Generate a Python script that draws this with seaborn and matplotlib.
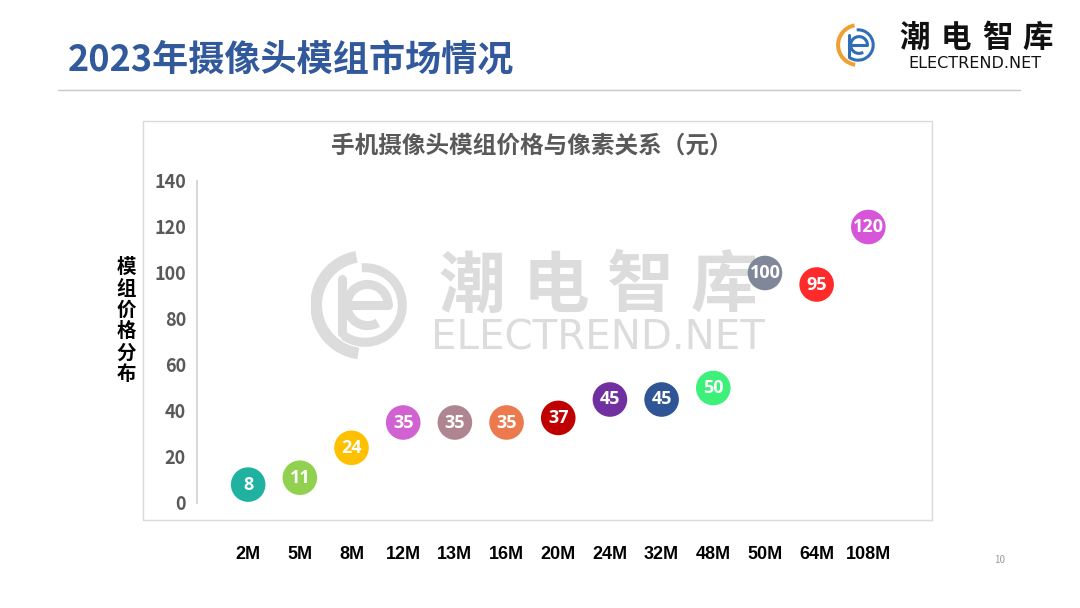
import matplotlib
matplotlib.use("Agg")
import matplotlib.pyplot as plt
from matplotlib.patches import Arc, Rectangle
from matplotlib.lines import Line2D
import pandas as pd
import seaborn as sns

# data
pixels = ["2M", "5M", "8M", "12M", "13M", "16M", "20M", "24M", "32M", "48M", "50M", "64M", "108M"]
prices = [8, 11, 24, 35, 35, 35, 37, 45, 45, 50, 100, 95, 120]
colors = ["#20b2a0", "#92d050", "#ffc000", "#d062d2", "#ae8590", "#ec7a4f", "#c00000",
          "#7030a0", "#2f5597", "#3cf07a", "#7f8799", "#ff2b2b", "#d655d8"]
y_ticks = [0, 20, 40, 60, 80, 100, 120, 140]

title = "2023年摄像头模组市场情况"
chart_title = "手机摄像头模组价格与像素关系（元）"
y_label = "模组价格分布"
brand = "潮电智库"
site = "ELECTREND.NET"

sns.set_theme(style="white")
plt.rcParams['font.family'] = ['Noto Sans CJK SC', 'DejaVu Sans']

W, H = 1080, 608
fig = plt.figure(figsize=(W / 100, H / 100), dpi=100)


def fx(px):
    return px / W


def fy(py):
    return 1 - py / H


def draw_icon(ax, ring, blue, lw):
    # rough version of the site logo: outer C + inner e
    ax.add_patch(Arc((0, 0), 1.9, 1.9, theta1=100, theta2=262, color=ring, lw=lw * 1.3))
    ax.add_patch(Arc((0, 0), 1.45, 1.45, theta1=-125, theta2=95, color=blue, lw=lw))
    ax.add_patch(Arc((0.05, 0), 0.8, 0.8, theta1=0, theta2=300, color=blue, lw=lw))
    ax.add_line(Line2D([-0.35, 0.45], [0, 0], color=blue, lw=lw))
    ax.add_line(Line2D([-0.45, -0.45], [-0.55, 0.5], color=blue, lw=lw))
    ax.set_xlim(-1.05, 1.05)
    ax.set_ylim(-1.05, 1.05)
    ax.set_aspect("equal")
    ax.axis("off")


# header
fig.text(fx(68), fy(60), title, fontsize=26, fontweight="bold", color="#31599b",
         ha="left", va="center")
fig.add_artist(Line2D([fx(58), fx(1020)], [fy(90), fy(90)], color="#c8c8c8", lw=1,
                      transform=fig.transFigure))

# logo top right
logo_ax = fig.add_axes([fx(836), fy(67), fx(44), 44 / H])
draw_icon(logo_ax, "#f0a030", "#2f6fb5", 2.2)
for k, ch in enumerate(brand):
    fig.text(fx(915 + 41 * k), fy(38), ch, fontsize=22, fontweight="bold",
             color="#111111", ha="center", va="center")
fig.text(fx(975), fy(63), site, fontsize=11.5, color="#111111",
         family="DejaVu Sans", ha="center", va="center")

# chart frame
fig.add_artist(Rectangle((fx(143), fy(520)), fx(932 - 143), (520 - 121) / H,
                         transform=fig.transFigure, facecolor="none",
                         edgecolor="#d9d9d9", lw=1, zorder=-3))

# watermark
wm_ax = fig.add_axes([fx(311), fy(359), fx(108), 108 / H], zorder=-2)
draw_icon(wm_ax, "#dcdcdc", "#dcdcdc", 6.5)
for k, ch in enumerate(brand):
    fig.text(fx(472 + 84 * k), fy(287), ch, fontsize=48, fontweight="bold",
             color="#dcdcdc", ha="center", va="center", zorder=-1)
fig.text(fx(598), fy(338), site, fontsize=29, color="#dcdcdc",
         family="DejaVu Sans", ha="center", va="center", zorder=-1)

fig.text(fx(532), fy(146), chart_title, fontsize=17, fontweight="bold", color="#595959",
         ha="center", va="center")
fig.text(fx(126), fy(321), "\n".join(y_label), fontsize=14, fontweight="bold",
         color="black", ha="center", va="center", linespacing=1.15)
fig.text(fx(1000), fy(560), "10", fontsize=7, color="#9a9a9a", ha="center", va="center")

# main plot
ax = fig.add_axes([fx(197), fy(503), fx(920 - 197), (503 - 181) / H])
ax.patch.set_alpha(0)
df = pd.DataFrame({"pixel": pixels, "price": prices})
sns.scatterplot(data=df, x="pixel", y="price", hue="pixel", palette=colors, s=620,
                edgecolor="none", legend=False, ax=ax, clip_on=False, zorder=3)
for i, v in enumerate(prices):
    ax.text(i, v, str(v), color="white", fontsize=13, fontweight="bold",
            family=["Open Sans", "DejaVu Sans"], ha="center", va="center", zorder=4)

ax.set_xlim(-0.99, 13)
ax.set_ylim(0, 140)
ax.set_yticks(y_ticks)
ax.set_xticks(range(len(pixels)))
ax.set_xticklabels(pixels, family=["Liberation Sans Narrow", "Liberation Sans", "DejaVu Sans"],
                   fontsize=13, fontweight="bold", color="black")
for lab in ax.get_yticklabels():
    lab.set_fontweight("bold")
ax.tick_params(axis="y", length=0, pad=8, labelsize=13, labelcolor="#595959")
ax.tick_params(axis="x", length=0, pad=31)
ax.set_xlabel("")
ax.set_ylabel("")
for side in ["top", "right", "bottom"]:
    ax.spines[side].set_visible(False)
ax.spines["left"].set_color("#d0d0d0")
ax.spines["left"].set_linewidth(1.2)
ax.grid(False)

fig.savefig("out.png", dpi=100)
